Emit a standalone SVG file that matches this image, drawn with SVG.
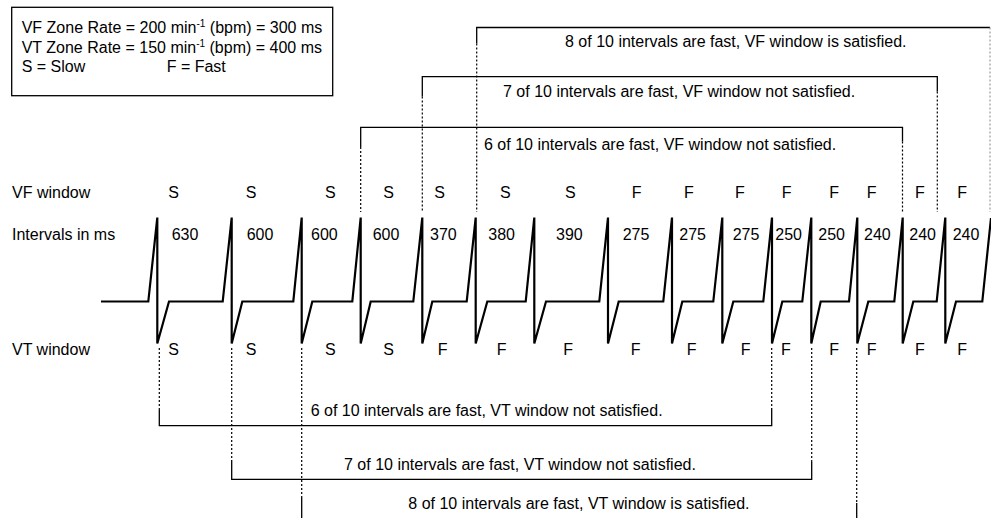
<svg xmlns="http://www.w3.org/2000/svg" width="991" height="518" viewBox="0 0 991 518">
<style>
text{font-family:"Liberation Sans",Arial,sans-serif;font-size:16px;fill:#000}
.sup{font-size:10px}
.solid{stroke:#000;stroke-width:1.3;fill:none}
.dot{stroke:#000;stroke-width:1.2;fill:none;stroke-dasharray:2 2}
.ecg{stroke:#000;stroke-width:2.2;fill:none;stroke-linejoin:miter}
</style>
<rect width="991" height="518" fill="#fff"/>
<g id="legend">
<rect x="11.7" y="7.3" width="321" height="88.4" fill="#fff" stroke="#000" stroke-width="1.3"/>
<text x="21.7" y="33">VF Zone Rate = 200 min<tspan class="sup" dy="-6">-1</tspan><tspan dy="6"> (bpm) = 300 ms</tspan></text>
<text x="21.7" y="52.5">VT Zone Rate = 150 min<tspan class="sup" dy="-6">-1</tspan><tspan dy="6"> (bpm) = 400 ms</tspan></text>
<text x="21.7" y="71.5">S = Slow</text>
<text x="166.7" y="71.5">F = Fast</text>
</g>
<g id="row-labels">
<text x="12" y="198">VF window</text>
<text x="12" y="240">Intervals in ms</text>
<text x="12" y="355">VT window</text>
</g>
<g id="ecg">
<path class="ecg" d="M101,301.5 L148.3,301.5 L157.3,217.5 L157.3,343.5 L169,301.5 L222.7,301.5 L231.7,217.5 L231.7,343.5 L242.3,301.5 L293.3,301.5 L301.7,217.5 L301.7,343.5 L312.3,301.5 L352.3,301.5 L360.7,217.5 L360.7,343.5 L370.7,301.5 L413.3,301.5 L422.3,217.5 L422.3,343.5 L432.3,301.5 L466.7,301.5 L475.7,217.5 L475.7,343.5 L487.3,301.5 L525.7,301.5 L534.3,217.5 L534.3,343.5 L546,301.5 L599.3,301.5 L608,217.5 L608,343.5 L618.7,301.5 L663.3,301.5 L672,217.5 L672,343.5 L682.3,301.5 L713.3,301.5 L722.3,217.5 L722.3,343.5 L733.3,301.5 L763.3,301.5 L772,217.5 L772,343.5 L782.3,301.5 L802.3,301.5 L811.3,217.5 L811.3,343.5 L820.7,301.5 L849,301.5 L857.3,217.5 L857.3,343.5 L868.3,301.5 L894.3,301.5 L902.7,217.5 L902.7,343.5 L913.3,301.5 L936.7,301.5 L945.3,217.5 L945.3,343.5 L956,301.5 L982.3,301.5 L991,218"/>
</g>
<g id="intervals">
<text x="171.7" y="240">630</text>
<text x="246.7" y="240">600</text>
<text x="311" y="240">600</text>
<text x="372.7" y="240">600</text>
<text x="430" y="240">370</text>
<text x="488.3" y="240">380</text>
<text x="556" y="240">390</text>
<text x="622.7" y="240">275</text>
<text x="679.3" y="240">275</text>
<text x="732.7" y="240">275</text>
<text x="775.3" y="240">250</text>
<text x="818.3" y="240">250</text>
<text x="864" y="240">240</text>
<text x="909.3" y="240">240</text>
<text x="952.7" y="240">240</text>
</g>
<g id="vf-window">
<text x="168.3" y="198">S</text>
<text x="245.7" y="198">S</text>
<text x="325" y="198">S</text>
<text x="383.3" y="198">S</text>
<text x="434.3" y="198">S</text>
<text x="500" y="198">S</text>
<text x="565" y="198">S</text>
<text x="631.7" y="198">F</text>
<text x="684" y="198">F</text>
<text x="735" y="198">F</text>
<text x="781.7" y="198">F</text>
<text x="829.3" y="198">F</text>
<text x="866.7" y="198">F</text>
<text x="915" y="198">F</text>
<text x="957.3" y="198">F</text>
</g>
<g id="vt-window">
<text x="168.3" y="355">S</text>
<text x="245.7" y="355">S</text>
<text x="325" y="355">S</text>
<text x="383.3" y="355">S</text>
<text x="437.7" y="355">F</text>
<text x="496.7" y="355">F</text>
<text x="563.3" y="355">F</text>
<text x="630.7" y="355">F</text>
<text x="686.7" y="355">F</text>
<text x="740.7" y="355">F</text>
<text x="781" y="355">F</text>
<text x="829.3" y="355">F</text>
<text x="866.7" y="355">F</text>
<text x="915" y="355">F</text>
<text x="957.3" y="355">F</text>
</g>
<g id="connectors">
<!-- VF 8 of 10 -->
<path class="solid" d="M476.7,43.5 V27.5 H990"/>
<path class="dot" d="M476.7,43.5 V212"/>
<path d="M990,27.5 V212" stroke="#999" stroke-width="1.2" stroke-dasharray="2 2" fill="none"/>
<!-- VF 7 of 10 -->
<path class="solid" d="M422.3,96.5 V76.7 H937.3 V91.5"/>
<path class="dot" d="M422.3,96.5 V212 M937.3,91.5 V212"/>
<!-- VF 6 of 10 -->
<path class="solid" d="M360.7,147 V127.3 H902.5 V141.5"/>
<path class="dot" d="M360.7,147 V212 M902.5,141.5 V212"/>
<!-- VT 6 of 10 -->
<path class="solid" d="M159.3,410 V425.7 H771.7 V408"/>
<path class="dot" d="M159.3,348 V410 M771.7,348 V408"/>
<!-- VT 7 of 10 -->
<path class="solid" d="M231.7,460 V479.3 H811.7 V462"/>
<path class="dot" d="M231.7,348 V460 M811.7,348 V462"/>
<!-- VT 8 of 10 -->
<path class="solid" d="M301.7,497 V518 M856.7,503 V518"/>
<path class="dot" d="M301.7,348 V497 M856.7,348 V503"/>
</g>
<g id="window-labels">
<text x="565" y="47">8 of 10 intervals are fast, VF window is satisfied.</text>
<text x="503" y="97">7 of 10 intervals are fast, VF window not satisfied.</text>
<text x="484" y="150">6 of 10 intervals are fast, VF window not satisfied.</text>
<text x="310.7" y="416">6 of 10 intervals are fast, VT window not satisfied.</text>
<text x="344" y="470">7 of 10 intervals are fast, VT window not satisfied.</text>
<text x="408.3" y="509">8 of 10 intervals are fast, VT window is satisfied.</text>
</g>
</svg>
